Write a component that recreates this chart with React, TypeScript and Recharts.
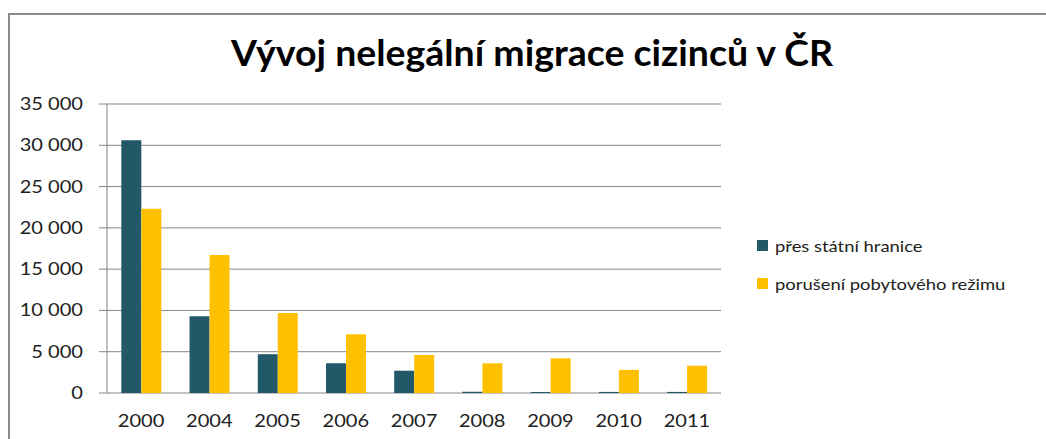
import React from 'react';
import { BarChart, Bar, XAxis, YAxis, CartesianGrid } from 'recharts';

const years = ['2000', '2004', '2005', '2006', '2007', '2008', '2009', '2010', '2011'];
const borderCrossings = [30600, 9300, 4700, 3600, 2700, 150, 120, 130, 130];
const residenceViolations = [22300, 16700, 9700, 7100, 4600, 3600, 4200, 2800, 3300];
const yTicks = [0, 5000, 10000, 15000, 20000, 25000, 30000, 35000];
const seriesNames = ['přes státní hranice', 'porušení pobytového režimu'];
const seriesColors = ['#215968', '#FFC000'];

const data = years.map((year, i) => ({
  year,
  hranice: borderCrossings[i],
  rezim: residenceViolations[i],
}));

// tick marks on the x axis sit between categories, not under them
const edgeTicks = years.map((_, i) => i).concat(years.length);

const FONT = 'Lato, "Open Sans", sans-serif';
const gridColor = '#868686';

const formatThousands = (v: number) =>
  v === 0 ? '0' : String(v).replace(/\B(?=(\d{3})+(?!\d))/g, '\u00a0');

const YTick = (props: any) => {
  const { x, y, payload } = props;
  return (
    <text
      transform={`translate(${x},${y}) scale(1.18,1)`}
      textAnchor="end"
      dy={6}
      fontFamily={FONT}
      fontSize={17}
      fill="#222"
    >
      {formatThousands(payload.value)}
    </text>
  );
};

const XTick = (props: any) => {
  const { x, y, payload } = props;
  return (
    <text
      transform={`translate(${x},${y}) scale(1.18,1)`}
      textAnchor="middle"
      dy={26}
      fontFamily={FONT}
      fontSize={17}
      fill="#222"
    >
      {payload.value}
    </text>
  );
};

const App: React.FC = () => {
  return (
    <div style={{ position: 'absolute', left: 0, top: 0, width: 1046, height: 439, background: '#fff', overflow: 'hidden' }}>
      <div
        style={{
          position: 'absolute',
          left: 8,
          top: 13,
          width: 1100,
          height: 500,
          borderTop: `2px solid #8a8a8a`,
          borderLeft: `2px solid #8a8a8a`,
        }}
      />
      <div
        style={{
          position: 'absolute',
          left: 0,
          width: 1064,
          top: 30,
          textAlign: 'center',
          fontFamily: FONT,
          fontWeight: 700,
          fontSize: 36,
          color: '#000',
          whiteSpace: 'nowrap',
          transform: 'scaleX(1.04)',
          transformOrigin: '532px center',
        }}
      >
        Vývoj nelegální migrace cizinců v ČR
      </div>
      <div style={{ position: 'absolute', left: 0, top: 0 }}>
        <BarChart
          width={1046}
          height={439}
          data={data}
          margin={{ top: 104, right: 325, bottom: 0, left: 0 }}
          barGap={0}
          barCategoryGap="21%"
        >
          <CartesianGrid vertical={false} stroke={gridColor} />
          <XAxis
            xAxisId="edge"
            type="number"
            domain={[0, years.length]}
            ticks={edgeTicks}
            tick={false}
            tickSize={6}
            height={0}
            stroke={gridColor}
            allowDataOverflow
          />
          <XAxis
            dataKey="year"
            axisLine={false}
            tickLine={false}
            tick={<XTick />}
            height={46}
            interval={0}
          />
          <YAxis
            domain={[0, 35000]}
            ticks={yTicks}
            width={107}
            tickSize={8}
            tickMargin={16}
            stroke={gridColor}
            tick={<YTick />}
            interval={0}
          />
          <Bar dataKey="hranice" name={seriesNames[0]} fill={seriesColors[0]} isAnimationActive={false} />
          <Bar dataKey="rezim" name={seriesNames[1]} fill={seriesColors[1]} isAnimationActive={false} />
        </BarChart>
      </div>
      <div style={{ position: 'absolute', left: 757, top: 226, fontFamily: FONT, fontSize: 16, color: '#222' }}>
        {seriesNames.map((name, i) => (
          <div key={name} style={{ display: 'flex', alignItems: 'center', height: 38 }}>
            <span style={{ width: 11, height: 11, background: seriesColors[i], marginRight: 7, display: 'inline-block' }} />
            <span style={{ display: 'inline-block', transform: 'scaleX(1.15)', transformOrigin: 'left center' }}>{name}</span>
          </div>
        ))}
      </div>
    </div>
  );
};

export default App;
